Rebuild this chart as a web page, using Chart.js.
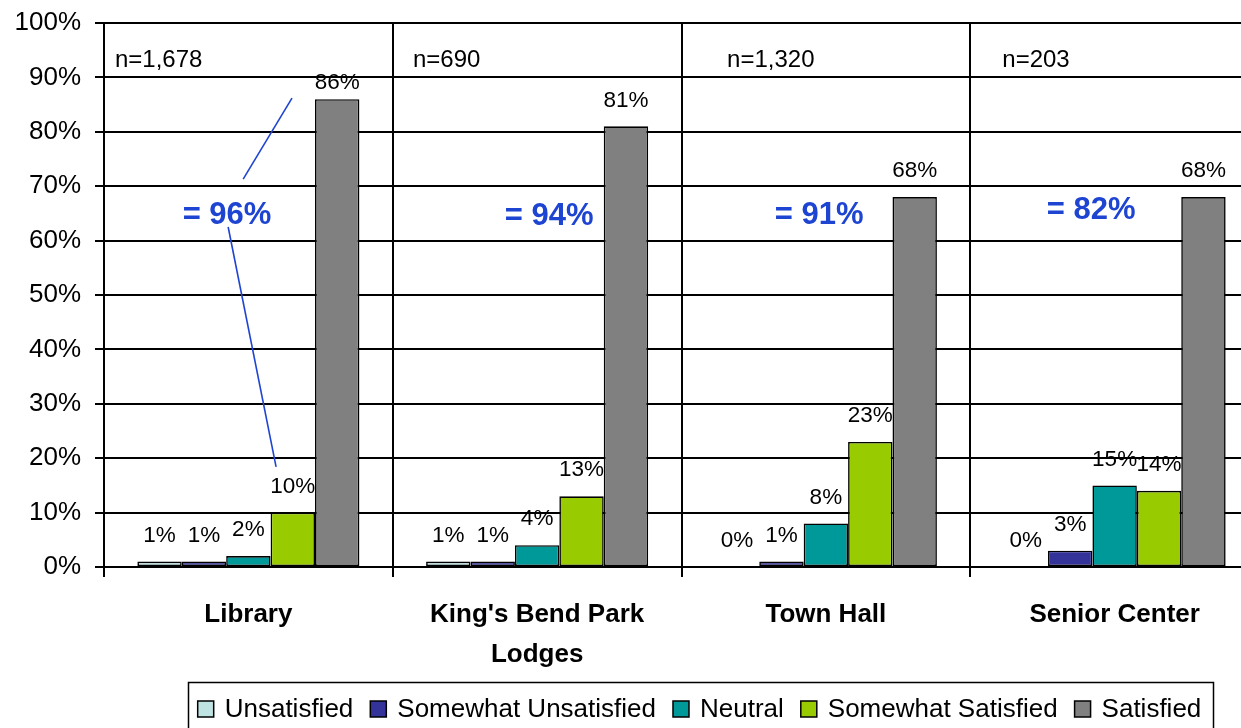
<!DOCTYPE html>
<html><head><meta charset="utf-8">
<script src="https://cdn.jsdelivr.net/npm/chart.js@4/dist/chart.umd.min.js"></script>
<style>
html,body{margin:0;padding:0;background:#fff;overflow:hidden;width:1241px;height:728px}
#wrap{position:absolute;left:0;top:0;width:1262px;height:740px}
</style>
</head><body><div id="wrap"><canvas id="c" width="1262" height="740"></canvas></div>
<script>
// ---- data ----
const categories = [["Library"], ["King's Bend Park", "Lodges"], ["Town Hall"], ["Senior Center"]];
const seriesNames = ["Unsatisfied", "Somewhat Unsatisfied", "Neutral", "Somewhat Satisfied", "Satisfied"];
const unsatisfied = [1, 1, 0, 0];
const somewhatUnsatisfied = [1, 1, 1, 3];
const neutral = [2, 4, 8, 15];
const somewhatSatisfied = [10, 13, 23, 14];
const satisfied = [86, 81, 68, 68];
const sampleSizes = ["n=1,678", "n=690", "n=1,320", "n=203"];
const combinedSatisfaction = ["= 96%", "= 94%", "= 91%", "= 82%"];
const yTickValues = [0, 10, 20, 30, 40, 50, 60, 70, 80, 90, 100];

// ---- styles / annotation placement (data units: category offset, value) ----
const colors = ["#BFE3E3", "#333399", "#009999", "#99CC00", "#808080"];
const FONT = "'Liberation Sans', Arial, sans-serif";
const BLUE = "#1E44D2";
const nLabelPlace = [[-0.462, 93.1], [-0.430, 93.1], [-0.342, 93.1], [-0.389, 93.1]];
const combinedPlace = [[-0.074, 64.7], [0.042, 64.5], [-0.023, 64.7], [-0.081, 65.6]];
const connectorLines = [
  { cat: 0, from: [-0.018, 71.3], to: [0.151, 86.2] },
  { cat: 0, from: [-0.070, 62.5], to: [0.096, 18.4] }
];
const labelGap = [[26, 26, 26, 26], [26, 26, 26, 26], [26, 26, 26, 26], [26, 26, 26, 26], [16, 26, 26, 26]];

const seriesValues = [unsatisfied, somewhatUnsatisfied, neutral, somewhatSatisfied, satisfied];

const datasets = seriesNames.map((name, i) => ({
  label: name,
  data: seriesValues[i],
  backgroundColor: colors[i],
  borderColor: "#000",
  borderWidth: 1.6,
  borderSkipped: false,
  categoryPercentage: 0.769,
  barPercentage: 1.0
}));

function catX(xs, cat, off) {
  const w = xs.getPixelForValue(1) - xs.getPixelForValue(0);
  return xs.getPixelForValue(cat) + off * w;
}

const extras = {
  id: "extras",
  afterDatasetsDraw(chart) {
    const ctx = chart.ctx;
    const xs = chart.scales.x, ys = chart.scales.y;
    ctx.save();
    // value labels
    ctx.fillStyle = "#000";
    ctx.font = "22.5px " + FONT;
    ctx.textAlign = "center";
    ctx.textBaseline = "middle";
    chart.data.datasets.forEach((ds, di) => {
      const meta = chart.getDatasetMeta(di);
      meta.data.forEach((bar, j) => {
        ctx.fillText(ds.data[j] + "%", bar.x, bar.y - labelGap[di][j]);
      });
    });
    // sample sizes
    ctx.font = "24px " + FONT;
    ctx.textAlign = "left";
    sampleSizes.forEach((t, j) => {
      ctx.fillText(t, catX(xs, j, nLabelPlace[j][0]), ys.getPixelForValue(nLabelPlace[j][1]));
    });
    // combined satisfaction
    ctx.fillStyle = BLUE;
    ctx.font = "bold 31px " + FONT;
    ctx.textAlign = "center";
    combinedSatisfaction.forEach((t, j) => {
      ctx.fillText(t, catX(xs, j, combinedPlace[j][0]), ys.getPixelForValue(combinedPlace[j][1]));
    });
    // connector lines
    ctx.strokeStyle = BLUE;
    ctx.lineWidth = 1.6;
    connectorLines.forEach(l => {
      ctx.beginPath();
      ctx.moveTo(catX(xs, l.cat, l.from[0]), ys.getPixelForValue(l.from[1]));
      ctx.lineTo(catX(xs, l.cat, l.to[0]), ys.getPixelForValue(l.to[1]));
      ctx.stroke();
    });
    ctx.restore();
  },
  afterDraw(chart) {
    // legend
    const ctx = chart.ctx;
    ctx.save();
    ctx.font = "26px " + FONT;
    const sq = 16, gapSq = 11, gapItem = 17;
    const items = chart.data.datasets.map(d => ({ label: d.label, color: d.backgroundColor, w: ctx.measureText(d.label).width }));
    let total = 0;
    items.forEach((it, i) => { total += sq + gapSq + it.w + (i ? gapItem : 0); });
    const boxL = 188, boxR = 1213, boxT = 683;
    const cx = (boxL + boxR) / 2 - 1;
    ctx.strokeStyle = "#000";
    ctx.lineWidth = 1.5;
    ctx.strokeRect(boxL + 0.5, boxT - 0.5, boxR - boxL, 80);
    let x = cx - total / 2;
    const cy = 709;
    ctx.textBaseline = "middle";
    ctx.textAlign = "left";
    items.forEach(it => {
      ctx.fillStyle = it.color;
      ctx.fillRect(x, cy - sq / 2, sq, sq);
      ctx.lineWidth = 1.5;
      ctx.strokeStyle = "#000";
      ctx.strokeRect(x, cy - sq / 2, sq, sq);
      ctx.fillStyle = "#000";
      ctx.fillText(it.label, x + sq + gapSq, cy + 1);
      x += sq + gapSq + it.w + gapItem;
    });
    ctx.restore();
  }
};

new Chart(document.getElementById("c"), {
  type: "bar",
  data: { labels: categories, datasets },
  options: {
    responsive: false,
    devicePixelRatio: 1,
    animation: false,
    layout: { padding: { top: 23, right: 3, bottom: 73, left: 0 } },
    plugins: { legend: { display: false }, tooltip: { enabled: false } },
    scales: {
      x: {
        afterFit(s) { s.height = 100; s.paddingLeft = 0; s.paddingRight = 0; },
        grid: { color: "#000", lineWidth: 2, tickLength: 10, offset: true, drawOnChartArea: true },
        border: { display: true, color: "#000", width: 2 },
        ticks: { color: "#000", font: { family: FONT, size: 26, weight: "bold", lineHeight: 1.54 }, padding: 18, maxRotation: 0 }
      },
      y: {
        min: 0, max: 100,
        afterFit(s) { s.width = 104; s.paddingTop = 0; s.paddingBottom = 0; },
        afterBuildTicks(s) { s.ticks = yTickValues.map(v => ({ value: v })); },
        grid: { color: "#000", lineWidth: 2, tickLength: 9 },
        border: { display: true, color: "#000", width: 2 },
        ticks: { color: "#000", font: { family: FONT, size: 26 }, padding: 14, callback: v => v + "%" }
      }
    }
  },
  plugins: [extras]
});
</script>
</body></html>
